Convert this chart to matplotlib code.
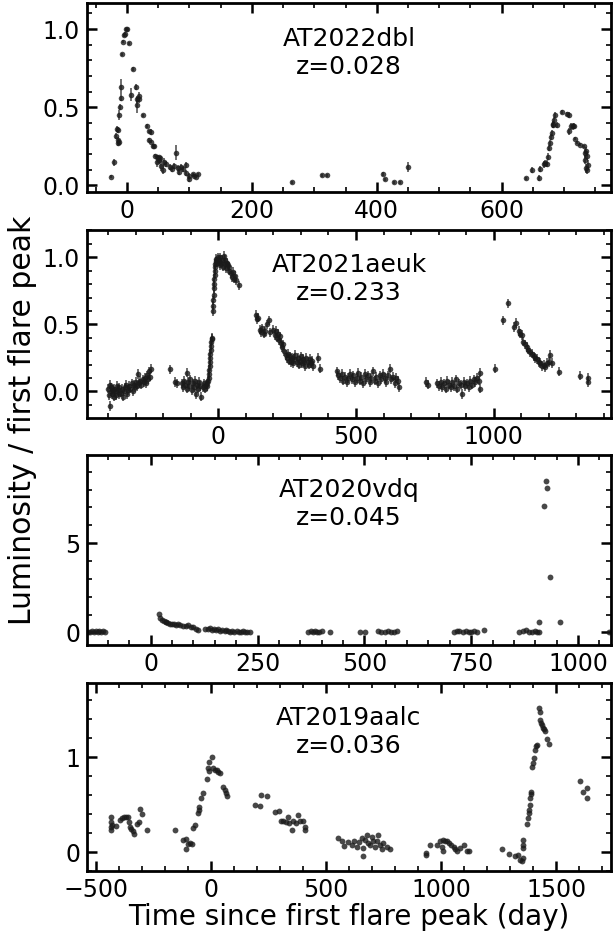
import matplotlib
matplotlib.use("Agg")
import matplotlib.pyplot as plt
from matplotlib.ticker import MultipleLocator, FormatStrFormatter

# ---------------- data ----------------
# Panel 1: AT2022dbl
t1 = [-25, -21, -18, -16, -14.4, -15, -14, -12.5, -12, -11, -10, -9, -8.5, -7, -5, -3,
      -1.6, 0.5, 3, 6.4, 10, 14.4, 16.5, 18.7, 20, 16, 26, 32, 35, 38, 36, 39, 41.6, 43.7,
      45, 47.5, 50.7, 53, 48, 52, 55, 57, 60, 62, 69, 72, 75, 79, 81, 84, 87, 90, 94, 95,
      98.7, 100, 105, 108, 111, 114, 264, 312, 321,
      410.6, 413, 428, 437, 450,
      639, 648, 660, 662, 667, 670, 672, 674, 675, 677, 679, 680, 682, 684, 686, 682.5, 688,
      696, 704, 707, 708, 711, 714, 715.3, 718, 721, 726, 732, 735, 734, 736, 733.3, 738,
      735.5, 737]
l1 = [0.055, 0.147, 0.317, 0.36, 0.355, 0.27, 0.29, 0.28, 0.45, 0.5, 0.56, 0.63, 0.84, 0.92,
      0.96, 0.97, 1.0, 1.0, 0.91, 0.58, 0.745, 0.63, 0.55, 0.575, 0.55, 0.515, 0.45, 0.38,
      0.345, 0.34, 0.29, 0.28, 0.255, 0.25, 0.19, 0.185, 0.18, 0.175, 0.15, 0.16, 0.125, 0.1,
      0.153, 0.138, 0.12, 0.104, 0.125, 0.21, 0.11, 0.087, 0.12, 0.104, 0.132, 0.079, 0.04,
      0.062, 0.07, 0.062, 0.057, 0.07, 0.019, 0.064, 0.064,
      0.074, 0.04, 0.019, 0.019, 0.117,
      0.047, 0.098, 0.047, 0.106, 0.134, 0.143, 0.14, 0.185, 0.24, 0.27, 0.31, 0.334, 0.385,
      0.42, 0.45, 0.39, 0.385, 0.47, 0.457, 0.45, 0.345, 0.377, 0.377, 0.38, 0.3, 0.274, 0.26,
      0.25, 0.223, 0.206, 0.19, 0.165, 0.13, 0.11, 0.096]
e1 = [0.01, 0.02, 0.02, 0.02, 0.02, 0.02, 0.02, 0.02, 0.03, 0.02, 0.02, 0.05, 0.01, 0.01,
      0.01, 0.01, 0.01, 0.01, 0.01, 0.04, 0.015, 0.02, 0.02, 0.02, 0.02, 0.05, 0.01, 0.01,
      0.01, 0.02, 0.015, 0.01, 0.01, 0.01, 0.01, 0.01, 0.01, 0.01, 0.03, 0.02, 0.03, 0.03,
      0.02, 0.02, 0.02, 0.02, 0.02, 0.05, 0.02, 0.02, 0.02, 0.02, 0.02, 0.02, 0.02,
      0.02, 0.01, 0.01, 0.01, 0.01, 0.01, 0.01, 0.01,
      0.015, 0.01, 0.01, 0.01, 0.03,
      0.01, 0.02, 0.02, 0.02, 0.02, 0.02, 0.02, 0.02, 0.02, 0.02, 0.02, 0.02, 0.02,
      0.02, 0.02, 0.02, 0.02, 0.01, 0.01, 0.02, 0.02, 0.02, 0.02, 0.02, 0.01, 0.01, 0.01,
      0.01, 0.02, 0.03, 0.03, 0.03, 0.03, 0.03, 0.02]

# Panel 2: AT2021aeuk
t2 = [-400, -398, -396, -394, -392, -390, -387, -384, -381, -378, -375, -372, -369, -366,
      -363, -360, -356, -352, -348, -344, -340, -336, -332, -328, -324, -320, -316, -312,
      -308, -304, -300, -296, -292, -288, -284, -280, -276, -272, -268, -264, -260, -256,
      -252, -248, -245,
      -175, -157, -152,
      -132, -128, -124, -120, -116, -113, -110, -106, -102, -98, -94, -90, -86, -82, -78,
      -74, -70, -66, -62, -58, -54, -50, -46, -42,
      -40, -38, -36, -34, -33, -32, -31, -30, -29, -28, -27, -26, -25, -24,
      -21, -20, -19, -18, -17, -16, -15, -14, -13, -12, -11, -10,
      -8, -5, -2, 1, 4, 7, 10, 13, 16, 19, 22, 25, 28, 31, 34, 37, 40,
      45, 48, 52, 56, 60, 64, 75,
      137, 140, 145, 150, 155, 160, 165, 170, 176, 182, 186,
      200, 204, 208, 212, 216, 220, 224, 228, 232, 236, 240, 244, 248, 252, 256, 260, 264,
      268, 272, 276, 280, 284, 288, 292, 296, 300, 304, 308, 312, 316, 320, 324, 328, 332,
      336, 340, 344, 362, 368,
      430, 436, 442, 448, 454, 460, 466, 472, 478, 484, 490, 496, 502, 508, 514, 520, 526,
      532, 538, 544, 550, 556, 562, 568, 574, 580, 586, 592, 598, 604, 610, 616, 622, 628,
      634, 640, 646, 652, 658,
      755, 760,
      795, 802, 808, 814, 820, 826, 832, 838, 844, 850, 856, 862, 868, 874, 880, 886, 892,
      898, 904, 910, 916, 922, 928, 934, 940, 946, 952, 952,
      1007, 1034, 1053, 1073, 1083, 1091, 1097, 1103, 1107, 1113, 1121, 1127, 1133, 1140,
      1146, 1152, 1158, 1164, 1170, 1176, 1182, 1188, 1194, 1200, 1206, 1212, 1239, 1313,
      1342, 1345]
l2 = [0.02, -0.03, 0.05, -0.11, 0.0, 0.03, -0.02, 0.01, -0.04, 0.02, 0.0, -0.03, 0.04, 0.01,
      -0.02, 0.03, -0.01, 0.02, -0.04, 0.0, 0.03, 0.05, -0.02, 0.01, 0.04, 0.02, 0.06, 0.0,
      0.05, 0.03, 0.07, 0.04, 0.13, 0.06, 0.08, 0.05, 0.09, 0.07, 0.1, 0.06, 0.12, 0.09,
      0.15, 0.11, 0.17,
      0.164, 0.07, 0.06,
      0.06, 0.03, 0.08, 0.05, 0.02, 0.14, 0.07, 0.04, 0.09, 0.01, 0.06, 0.03, 0.08, -0.02,
      0.05, 0.02, 0.07, 0.04, -0.04, 0.03, 0.06, 0.02, 0.05, 0.04,
      0.06, 0.08, 0.1, 0.13, 0.16, 0.19, 0.22, 0.25, 0.28, 0.31, 0.34, 0.37, 0.39, 0.4,
      0.6, 0.64, 0.68, 0.72, 0.77, 0.8, 0.84, 0.87, 0.9, 0.93, 0.95, 0.97,
      0.99, 0.96, 1.0, 0.97, 0.94, 1.0, 0.96, 0.98, 0.93, 1.01, 0.95, 0.98, 0.92, 0.96,
      0.94, 0.9, 0.93,
      0.88, 0.85, 0.89, 0.84, 0.86, 0.83, 0.79,
      0.57, 0.54, 0.55, 0.46, 0.44, 0.47, 0.43, 0.45, 0.5, 0.53, 0.44,
      0.46, 0.42, 0.45, 0.4, 0.43, 0.38, 0.41, 0.36, 0.33, 0.35, 0.3, 0.27, 0.25, 0.28,
      0.23, 0.26, 0.22, 0.25, 0.21, 0.24, 0.27, 0.22, 0.25, 0.2, 0.23, 0.26, 0.21, 0.24,
      0.22, 0.19, 0.25, 0.22, 0.2, 0.24, 0.21, 0.23, 0.19, 0.25, 0.17,
      0.15, 0.12, 0.1, 0.13, 0.08, 0.11, 0.07, 0.1, 0.13, 0.09, 0.12, 0.07, 0.1, 0.14,
      0.08, 0.11, 0.06, 0.13, 0.09, 0.12, 0.07, 0.1, 0.15, 0.08, 0.11, 0.06, 0.12, 0.09,
      0.13, 0.1, 0.07, 0.12, 0.17, 0.09, 0.11, 0.06, 0.1, 0.08, 0.03,
      0.07, 0.05,
      0.06, 0.04, 0.07, 0.03, 0.06, 0.02, 0.08, 0.05, 0.03, 0.07, 0.04, 0.09, 0.02, 0.06,
      0.05, -0.02, 0.07, 0.04, 0.06, 0.03, 0.08, 0.05, 0.09, 0.07, 0.1, 0.08, 0.14, 0.02,
      0.17, 0.53, 0.657, 0.48, 0.51, 0.45, 0.43, 0.42, 0.37, 0.35, 0.33, 0.31, 0.29, 0.28,
      0.26, 0.25, 0.24, 0.22, 0.21, 0.19, 0.2, 0.18, 0.21, 0.22, 0.27, 0.21, 0.147, 0.117,
      0.1, 0.07]
e2 = 0.035

# Panel 3: AT2020vdq
t3 = [-147, -142, -138, -133, -128, -124, -120, -116, -112, -108,
      19.5, 23, 27, 31, 35, 37, 41, 46, 50, 55, 60, 64, 68, 76, 82, 88, 94, 100, 106, 111,
      127, 133, 138, 143, 148, 153, 158, 163, 168, 173, 177,
      181, 186, 191, 196, 201, 206, 211, 216, 221, 226, 232,
      369, 375, 380, 385, 390, 395, 400, 420,
      490, 502, 533, 540, 548, 556, 563, 570, 576,
      709, 716, 722, 730, 737, 744, 750, 757, 763, 781,
      861, 870, 878, 886, 893, 899, 903, 908, 909, 921, 926, 926.5, 935, 958, 1072]
l3 = [0.05, 0.0, 0.08, 0.03, 0.06, 0.01, 0.07, 0.04, 0.09, 0.05,
      1.04, 0.8, 0.72, 0.65, 0.6, 0.58, 0.55, 0.5, 0.48, 0.45, 0.42, 0.46, 0.4, 0.38, 0.35,
      0.42, 0.3, 0.28, 0.22, 0.15,
      0.2, 0.18, 0.25, 0.15, 0.2, 0.12, 0.17, 0.1, 0.14, 0.06, 0.12,
      0.1, 0.05, 0.08, 0.02, 0.06, 0.0, 0.04, 0.07, 0.01, 0.05, 0.03,
      0.05, 0.08, 0.02, 0.06, 0.0, 0.04, 0.07, 0.03,
      0.02, 0.04, 0.06, 0.0, 0.03, 0.07, 0.01, 0.05, 0.08,
      0.02, 0.06, 0.09, 0.04, 0.07, 0.02, 0.05, 0.08, 0.03, 0.15,
      0.02, 0.08, 0.15, 0.05, 0.03, 0.06, 0.02, 0.04, 0.58, 7.1, 8.5, 8.1, 3.1, 0.57, 0.05]

# Panel 4: AT2019aalc
t4 = [-435, -435, -435, -435, -428, -410, -394, -386, -377, -367, -360, -357, -352, -345,
      -338, -335, -322, -314, -307, -299, -278,
      -154, -122, -107, -101, -91, -83, -110, -77, -67, -54, -51, -51, -43, -35, -17, -12,
      -10, -7, 3, 9, 16, 25, 33, 39, 51, 61, 65, 68,
      190, 212, 216, 242, 278, 296, 304, 314, 326, 335, 341, 351, 358, 370, 380, 387, 399,
      410, 410,
      554, 568, 578, 597,
      611, 622, 633, 645, 655, 662, 670, 677, 684, 691, 699, 706, 713, 720, 728, 735, 742,
      749, 764, 778, 662,
      935, 936, 952, 984, 995, 1007, 1017, 1027, 1036, 1045, 1054, 1010, 1003,
      1061, 1071, 1082, 1101, 1111, 1123,
      1264, 1293, 1319, 1336, 1343, 1350, 1355, 1358, 1358, 1358,
      1372, 1377, 1380, 1383, 1385, 1388, 1390, 1391, 1394, 1401, 1404, 1408, 1412, 1415,
      1427, 1428, 1430, 1433, 1438, 1442, 1445, 1452, 1460, 1470,
      1602, 1615, 1636, 1636]
l4 = [0.37, 0.32, 0.27, 0.23, 0.29, 0.28, 0.34, 0.36, 0.375, 0.37, 0.37, 0.32, 0.27, 0.25,
      0.22, 0.19, 0.3, 0.32, 0.46, 0.40, 0.23,
      0.23, 0.13, 0.14, 0.09, 0.1, 0.09, 0.035, 0.26, 0.29, 0.41, 0.48, 0.45, 0.57, 0.62,
      0.77, 0.89, 0.95, 0.86, 1.0, 0.89, 0.87, 0.87, 0.85, 0.84, 0.69, 0.66, 0.62, 0.59,
      0.5, 0.49, 0.6, 0.59, 0.42, 0.44, 0.33, 0.33, 0.32, 0.375, 0.31, 0.24, 0.33, 0.31,
      0.39, 0.33, 0.33, 0.27, 0.23,
      0.15, 0.12, 0.07, 0.11,
      0.08, 0.12, 0.06, 0.11, 0.15, 0.05, 0.13, 0.18, 0.1, 0.08, 0.16, 0.12, 0.06, 0.12,
      0.18, 0.08, 0.03, 0.1, 0.06, 0.03, -0.035,
      -0.01, -0.03, 0.08, 0.08, 0.12, 0.13, 0.12, 0.12, 0.1, 0.08, 0.06, 0.01, 0.06,
      0.03, 0.01, 0.05, 0.08, 0.01, 0.01,
      0.03, -0.015, -0.04, -0.03, -0.08, -0.09, -0.06, 0.13, 0.08, 0.05,
      0.3, 0.36, 0.41, 0.45, 0.5, 0.57, 0.61, 0.64, 0.9, 0.94, 0.99, 1.08, 1.12, 1.13,
      1.52, 1.48, 1.39, 1.36, 1.34, 1.31, 1.30, 1.28, 1.19, 1.14,
      0.75, 0.63, 0.68, 0.57]

names = ["AT2022dbl", "AT2021aeuk", "AT2020vdq", "AT2019aalc"]
redshifts = ["z=0.028", "z=0.233", "z=0.045", "z=0.036"]

xlims = [(-64, 775), (-478, 1427), (-149, 1077), (-538, 1738)]
ylims = [(-0.04, 1.165), (-0.197, 1.206), (-0.7, 9.95), (-0.2, 1.785)]
xmaj = [200, 500, 250, 500]
xmin = [50, 100, 50, 100]
ymaj = [0.5, 0.5, 5, 1]
ymin = [0.1, 0.1, 1, 0.2]
yfmt = ["%.1f", "%.1f", "%d", "%d"]

# ---------------- figure ----------------
plt.rcParams['font.family'] = ['DejaVu Sans']
fig = plt.figure(figsize=(6.13, 9.36), dpi=100)

rects = [
    [0.1419, 0.7952, 0.8548, 0.2013],
    [0.1419, 0.5537, 0.8548, 0.2009],
    [0.1419, 0.3109, 0.8548, 0.2033],
    [0.1419, 0.0691, 0.8548, 0.2015],
]

mcol = '#1a1a1a'
datasets = [(t1, l1, e1), (t2, l2, e2), (t3, l3, None), (t4, l4, None)]

for i, rect in enumerate(rects):
    ax = fig.add_axes(rect)
    t, l, e = datasets[i]
    if e is not None:
        ax.errorbar(t, l, yerr=e, fmt='o', color=mcol, ms=4.0, mew=0,
                    elinewidth=1.1, capsize=0, alpha=0.8)
    else:
        ax.plot(t, l, 'o', color=mcol, ms=4.2, mew=0, alpha=0.8)
    ax.set_xlim(*xlims[i])
    ax.set_ylim(*ylims[i])
    ax.xaxis.set_major_locator(MultipleLocator(xmaj[i]))
    ax.xaxis.set_minor_locator(MultipleLocator(xmin[i]))
    ax.yaxis.set_major_locator(MultipleLocator(ymaj[i]))
    ax.yaxis.set_minor_locator(MultipleLocator(ymin[i]))
    ax.yaxis.set_major_formatter(FormatStrFormatter(yfmt[i]))
    ax.tick_params(which='both', direction='in', top=True, right=True, labelsize=17)
    ax.tick_params(which='major', length=7, width=1.8, pad=5)
    ax.tick_params(which='minor', length=3.5, width=1.2)
    for sp in ax.spines.values():
        sp.set_linewidth(2)
    ax.text(0.5, 0.875, names[i] + "\n" + redshifts[i], transform=ax.transAxes,
            ha='center', va='top', fontsize=18, linespacing=1.2)

fig.text(0.5695, 0.0203, "Time since first flare peak (day)", ha='center', va='center',
         fontsize=20)
fig.text(0.036, 0.551, "Luminosity / first flare peak", ha='center', va='center',
         rotation=90, fontsize=21.5)

fig.savefig("out.png", dpi=100)
